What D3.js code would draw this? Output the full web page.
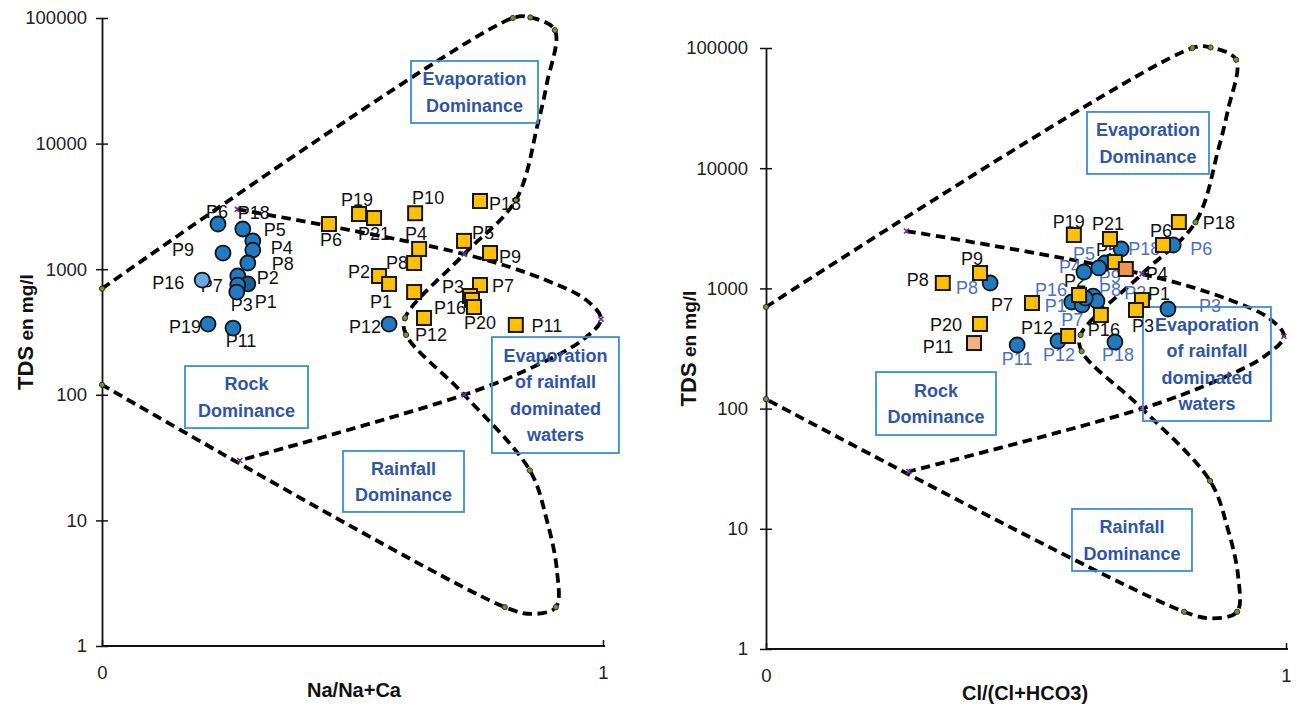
<!DOCTYPE html>
<html><head><meta charset="utf-8">
<script src="https://cdn.jsdelivr.net/npm/d3@7"></script>
<style>
body{margin:0;background:#fff;}
svg{display:block;font-family:"Liberation Sans",Arial,sans-serif;}
</style>
</head><body>
<svg id="c" width="1296" height="704"></svg>
<script>
// ---------------- DATA ----------------
const yTicks = [1, 10, 100, 1000, 10000, 100000];
const xTicks = [0, 1];

// Gibbs boundary (x ratio, TDS mg/l)
const outerX   = [0, 0.82, 0.855, 0.904, 0.888, 0.870, 0.826, 0.723, 0.605, 0.607, 0.723, 0.854, 0.888, 0.908, 0.906, 0.860, 0.804, 0];
const outerTDS = [700, 100000, 101000, 80000, 30200, 14450, 3550, 1320, 410, 300, 100, 25, 10, 4, 2.04, 1.8, 2.04, 120];
const innerX   = [0.27, 0.723, 0.888, 0.968, 0.996, 0.960, 0.860, 0.723, 0.275];
const innerTDS = [3000, 1320, 813, 562, 400, 275, 166, 100, 30];
const nodeX    = [0, 0.82, 0.855, 0.904, 0.826, 0.605, 0.607, 0.854, 0.906, 0.804, 0];
const nodeTDS  = [700, 100000, 101000, 80000, 3550, 410, 300, 25, 2.04, 2.04, 120];
const crossX   = [0.27, 0.723, 0.996, 0.723, 0.275];
const crossTDS = [3000, 1320, 400, 100, 30];

const zoneNames = [["Evaporation", "Dominance"], ["Rock", "Dominance"], ["Rainfall", "Dominance"], ["Evaporation", "of rainfall", "dominated", "waters"]];

// Left chart: Na/(Na+Ca)
const leftCircleNames = ["P6","P18","P5","P4","P8","P9","P16","P2","P1","P7","P3","P19","P11","P12"];
const leftCircleX     = [0.2315,0.281,0.301,0.301,0.291,0.2415,0.200,0.271,0.291,0.271,0.269,0.2116,0.2615,0.573];
const leftCircleTDS   = [2290,2090,1680,1420,1120,1345,820,883,763,748,658,366,340,366];
const leftSquareNames = ["P19","P21","P6","P10","P18","P4","P8","P5","P9","P2","P1","","P7","P3","P16","P20","P12","P11"];
const leftSquareX     = [0.513,0.543,0.453,0.625,0.7545,0.633,0.623,0.7226,0.7745,0.553,0.573,0.623,0.7545,0.7345,0.7385,0.7425,0.6427,0.826];
const leftSquareTDS   = [2750,2555,2290,2790,3490,1450,1120,1680,1345,883,763,658,748,612,569,500,409,360];

// Right chart: Cl/(Cl+HCO3)
const rightCircleNames = ["P8","P11","P12","P18","P3","P6","P18","P5","P4","P9","P1","P7","P16","P8","P2"];
const rightCircleX     = [0.431,0.483,0.5615,0.671,0.773,0.783,0.683,0.652,0.6115,0.640,0.588,0.608,0.629,0.6365,0.614];
const rightCircleTDS   = [1109,338,365,358,674,2296,2128,1626,1369,1479,771,728,864,785,830];
const rightSquareNames = ["P8","P9","P20","P11","P7","P19","P21","P6","P18","P5","P4","P2","P16","P1","P3","P12"];
const rightSquareX     = [0.340,0.4115,0.4115,0.400,0.5115,0.592,0.6615,0.7635,0.794,0.671,0.692,0.602,0.644,0.723,0.7115,0.581];
const rightSquareTDS   = [1109,1343,506,351,756,2782,2576,2296,3566,1659,1450,881,601,800,661,402];

// ---------------- LAYOUT (label offsets px, box placement) ----------------
const leftCircleLab  = [[-1,-12],[11,-16],[22,-11],[29,-2],[35,1],[-40,-3],[-34,3],[30,2],[18,18],[-26,1],[5,13],[-23,3],[8,13],[-24,3]];
const leftSquareLab  = [[-2,-14],[0,16],[2,16],[13,-16],[25,3],[-3,-15],[-17,0],[19,-8],[20,4],[-20,-4],[-8,18],[0,0],[23,1],[-17,-9],[-22,8],[6,16],[7,17],[31,1]];
const rightCircleLab = [[-23,5],[0,14],[1,14],[3,13],[42,-3],[28,4],[23,0],[-21,-9],[-14,-5],[11,9],[-16,4],[-10,15],[-42,-6],[13,-11],[50,-5]];
const rightSquareLab = [[-25,-3],[-8,-14],[-34,1],[-36,4],[-30,2],[-5,-13],[-2,-15],[-2,-14],[40,1],[-8,-12],[31,5],[-4,-14],[3,15],[17,-6],[7,16],[-31,-8]];
// boxes: [x ratio, TDS] centre, [w,h] px
const leftBoxes  = [[0.7435, Math.pow(10,4.411), 127, 62],[0.2884, Math.pow(10,1.982), 123, 62],[0.6018, Math.pow(10,1.310), 121, 61],[0.905, Math.pow(10,1.998), 127, 116]];
const rightBoxes = [[0.7346, Math.pow(10,4.210), 122, 62],[0.3269, Math.pow(10,2.042), 120, 63],[0.7038, Math.pow(10,0.907), 120, 62],[0.848, Math.pow(10,2.371), 128, 114]];

const BLUE = "#2079c1", ORANGE = "#ffc000";
const leftCircleFill  = {6: "#6aaae4", 8: "#1c5f96"};
const rightSquareFill = {3: "#f4b183", 10: "#f4934a"};

const svg = d3.select("#c");

function panel(cfg) {
  const g = svg.append("g");
  const x = d3.scaleLinear().domain([0, 1]).range([cfg.left, cfg.right]);
  const y = d3.scaleLog().domain([1, 100000]).range([cfg.bottom, cfg.top]);

  // axes
  const ya = d3.axisLeft(y).tickValues(yTicks).tickFormat(d3.format("d")).tickSize(6).tickSizeOuter(0).tickPadding(cfg.yPad);
  const yg = g.append("g").attr("transform", `translate(${cfg.left},0)`).call(ya);
  yg.selectAll(".tick line").attr("x1", 6).attr("x2", -6).attr("stroke", "#111").attr("stroke-width", 1.5);
  yg.select(".domain").attr("stroke", "#111").attr("stroke-width", 1.8);
  yg.selectAll(".tick text").attr("font-size", 18.5).attr("fill", "#222").attr("font-family", "Liberation Sans, Arial, sans-serif");

  const xa = d3.axisBottom(x).tickValues(xTicks).tickFormat(d3.format("d")).tickSizeOuter(0).tickSize(0);
  const xg = g.append("g").attr("transform", `translate(0,${cfg.bottom})`).call(xa);
  xg.select(".domain").attr("d", `M${cfg.left},0H${cfg.right + 2}`).attr("stroke", "#111").attr("stroke-width", 1.8);
  xg.selectAll(".tick line").attr("y1", -6).attr("y2", 1).attr("stroke", "#111").attr("stroke-width", 1.5);
  xg.selectAll(".tick text").attr("y", 20).attr("dy", "0.71em").attr("font-size", 18.5).attr("fill", "#222").attr("font-family", "Liberation Sans, Arial, sans-serif");

  // titles
  g.append("text").attr("x", cfg.xTitleX).attr("y", cfg.bottom + 51).attr("text-anchor", "middle")
    .attr("font-size", 20).attr("font-weight", "bold").attr("fill", "#111").text(cfg.xTitle);
  const yt = g.append("text").attr("transform", `translate(${cfg.yTitleX},${(cfg.top + cfg.bottom) / 2}) rotate(-90)`)
    .attr("text-anchor", "middle").attr("font-weight", "bold").attr("fill", "#111");
  yt.append("tspan").attr("font-size", 22).text("TDS");
  yt.append("tspan").attr("font-size", 19).text(" en mg/l");

  // boundaries
  const line = d3.line().x(d => x(d[0])).y(d => y(d[1])).curve(d3.curveCatmullRom.alpha(0.5));
  [d3.zip(outerX, outerTDS), d3.zip(innerX, innerTDS)].forEach(pts => {
    g.append("path").datum(pts).attr("d", line).attr("fill", "none").attr("stroke", "#000")
      .attr("stroke-width", 3.8).attr("stroke-dasharray", "9.5,5.5");
  });
  g.selectAll(null).data(d3.zip(nodeX, nodeTDS)).join("circle")
    .attr("cx", d => x(d[0])).attr("cy", d => y(d[1])).attr("r", 2.6)
    .attr("fill", "#76923c").attr("stroke", "#2a3a10").attr("stroke-width", 1);
  g.selectAll(null).data(d3.zip(crossX, crossTDS)).join("path")
    .attr("d", d => { const cx = x(d[0]), cy = y(d[1]); return `M${cx-2.5},${cy-2.5}L${cx+2.5},${cy+2.5}M${cx-2.5},${cy+2.5}L${cx+2.5},${cy-2.5}`; })
    .attr("stroke", "#7030a0").attr("stroke-width", 1.6);

  // zone boxes
  cfg.boxes.forEach((b, i) => {
    const cx = x(b[0]), cy = y(b[1]), w = b[2], h = b[3];
    g.append("rect").attr("x", cx - w / 2).attr("y", cy - h / 2).attr("width", w).attr("height", h)
      .attr("fill", "none").attr("stroke", "#3d8fcf").attr("stroke-width", 1.8);
    const lines = zoneNames[i];
    const lh = 26.5;
    lines.forEach((t, j) => {
      g.append("text").attr("x", cx).attr("y", cy + (j - (lines.length - 1) / 2) * lh)
        .attr("dy", "0.35em").attr("text-anchor", "middle").attr("font-size", 18).attr("font-weight", "bold")
        .attr("fill", "#2f55a5").text(t);
    });
  });

  // labels
  const circ = d3.range(cfg.cNames.length).map(i => ({n: cfg.cNames[i], x: cfg.cX[i], v: cfg.cT[i], o: cfg.cLab[i], i}));
  const sq = d3.range(cfg.sNames.length).map(i => ({n: cfg.sNames[i], x: cfg.sX[i], v: cfg.sT[i], o: cfg.sLab[i], i}));
  g.selectAll(null).data(circ).join("text")
    .attr("x", d => x(d.x) + d.o[0]).attr("y", d => y(d.v) + d.o[1]).attr("dy", "0.35em")
    .attr("text-anchor", "middle").attr("font-size", 18).attr("fill", cfg.cLabColor).text(d => d.n);
  g.selectAll(null).data(sq).join("text")
    .attr("x", d => x(d.x) + d.o[0]).attr("y", d => y(d.v) + d.o[1]).attr("dy", "0.35em")
    .attr("text-anchor", "middle").attr("font-size", 18).attr("fill", "#111").text(d => d.n);

  // markers
  g.selectAll(null).data(circ).join("circle")
    .attr("cx", d => x(d.x)).attr("cy", d => y(d.v)).attr("r", 7.5)
    .attr("fill", d => (cfg.cFill[d.i] || BLUE)).attr("stroke", "#161616").attr("stroke-width", 1.8);
  g.selectAll(null).data(sq).join("rect")
    .attr("x", d => x(d.x) - 7).attr("y", d => y(d.v) - 7).attr("width", 14).attr("height", 14)
    .attr("fill", d => (cfg.sFill[d.i] || ORANGE)).attr("stroke", "#161616").attr("stroke-width", 2);
}

panel({
  left: 102, right: 603, top: 18, bottom: 646, yPad: 9, xTitle: "Na/Na+Ca", xTitleX: 354, yTitleX: 33,
  boxes: leftBoxes,
  cNames: leftCircleNames, cX: leftCircleX, cT: leftCircleTDS, cLab: leftCircleLab, cLabColor: "#111", cFill: leftCircleFill,
  sNames: leftSquareNames, sX: leftSquareX, sT: leftSquareTDS, sLab: leftSquareLab, sFill: {}
});
panel({
  left: 766, right: 1286, top: 48, bottom: 649, yPad: 12, xTitle: "Cl/(Cl+HCO3)", xTitleX: 1025, yTitleX: 696,
  boxes: rightBoxes,
  cNames: rightCircleNames, cX: rightCircleX, cT: rightCircleTDS, cLab: rightCircleLab, cLabColor: "#4a72c0", cFill: {},
  sNames: rightSquareNames, sX: rightSquareX, sT: rightSquareTDS, sLab: rightSquareLab, sFill: rightSquareFill
});
</script>
</body></html>
